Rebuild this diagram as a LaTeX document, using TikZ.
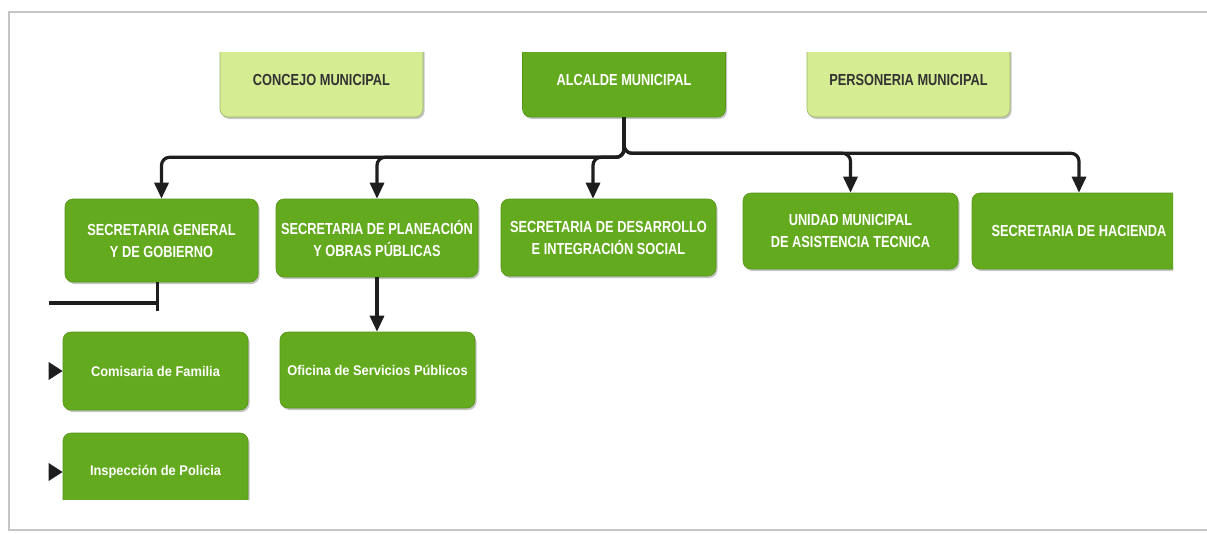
\documentclass[tikz,border=0pt]{standalone}
\usepackage{fontspec}
\newfontfamily\orgfont{Liberation Sans}[FakeStretch=0.8]
\newfontfamily\subfont{Liberation Sans}[FakeStretch=0.92]
\usetikzlibrary{arrows.meta,shadows}
\definecolor{leafgreen}{HTML}{64AA1E}
\definecolor{leafedge}{HTML}{569517}
\definecolor{palegreen}{HTML}{D5EC92}
\definecolor{paleedge}{HTML}{9DB566}
\definecolor{inkgray}{HTML}{333333}
\definecolor{linkgray}{HTML}{1E1E1E}

\begin{document}
\begin{tikzpicture}[x=1pt,y=-1pt,
  unit/.style={rounded corners=8pt,inner sep=0pt,align=center,
    drop shadow={shadow xshift=1.5pt,shadow yshift=-2pt,opacity=0.45}},
  darkbox/.style={unit,fill=leafgreen,draw=leafedge,line width=0.6pt,text=white,
    font=\orgfont\bfseries\fontsize{16}{22}\selectfont},
  lightbox/.style={unit,fill=palegreen,draw=paleedge,line width=0.6pt,text=inkgray,
    font=\orgfont\bfseries\fontsize{16}{22}\selectfont},
  subbox/.style={darkbox,font=\subfont\bfseries\fontsize{14}{17}\selectfont},
  link/.style={draw=linkgray,line width=3.2pt,rounded corners=8pt},
  arrowlink/.style={link,-{Triangle[length=16pt,width=14pt]}},
  sidelink/.style={link,-{Triangle[length=14pt,width=17pt]}}]
  \useasboundingbox (0,0) rectangle (1207,533);
  \fill[white] (0,0) rectangle (1207,533);
  % frame of the screenshot
  \draw[gray!45,line width=1.5pt] (1207,12) -- (9,12) -- (9,530) -- (1207,530);
  \begin{scope}
    \clip (0,52) rectangle (1173,499);
    % top row
    \node[lightbox,minimum width=203pt,minimum height=74pt] (con) at (321.5,80) {CONCEJO MUNICIPAL};
    \node[darkbox,minimum width=203pt,minimum height=74pt] (alc) at (624,80) {ALCALDE MUNICIPAL};
    \node[lightbox,minimum width=203pt,minimum height=74pt] (per) at (908.5,80) {PERSONERIA MUNICIPAL};
    % secretarias
    \node[darkbox,minimum width=193pt,minimum height=83pt] (b1) at (161.5,240.5) {SECRETARIA GENERAL\\Y DE GOBIERNO};
    \node[darkbox,minimum width=202pt,minimum height=78pt] (b2) at (377,238) {SECRETARIA DE PLANEACIÓN\\Y OBRAS PÚBLICAS};
    \node[darkbox,minimum width=215pt,minimum height=77pt] (b3) at (608.5,237.5) {SECRETARIA DE DESARROLLO\\E INTEGRACIÓN SOCIAL};
    \node[darkbox,minimum width=215pt,minimum height=76pt] (b4) at (850.5,231) {UNIDAD MUNICIPAL\\DE ASISTENCIA TECNICA};
    \node[darkbox,minimum width=214pt,minimum height=76pt] (b5) at (1079,231) {SECRETARIA DE HACIENDA};
    % dependencias
    \node[subbox,minimum width=185pt,minimum height=78pt] (com) at (155.5,371) {Comisaria de Familia};
    \node[subbox,minimum width=185pt,minimum height=78pt] (ins) at (155.5,472) {Inspección de Policia};
    \node[subbox,minimum width=195pt,minimum height=76pt] (ofi) at (377.5,370) {Oficina de Servicios Públicos};
  \end{scope}
  % connectors
  \foreach \b in {b1,b2}
    \draw[arrowlink] (alc.south) -- ++(0,40) -| (\b.north);
  \draw[arrowlink] (alc.south) -- ++(0,40) -| ([xshift=-15.5pt]b3.north);
  \foreach \b in {b4,b5}
    \draw[arrowlink] (alc.south) -- ++(0,36) -| (\b.north);
  \draw[arrowlink] (b2.south) -- (b2.south |- ofi.north);
  \coordinate (gobtop) at ([xshift=-4.5pt]b1.south);
  \coordinate (gobfoot) at ([xshift=-4.5pt,yshift=-29pt]b1.south);
  \coordinate (gobend) at (49,303);
  \draw[link,line width=3pt,rounded corners=0pt] (gobtop) -- (gobfoot);
  \draw[link,line width=3.6pt,rounded corners=0pt] (gobend) -- (gobend -| gobfoot);
  \coordinate (comin) at ([xshift=-14pt]com.west);
  \coordinate (insin) at ([xshift=-14pt]ins.west);
  \draw[sidelink] (comin) -- (com.west);
  \draw[sidelink] (insin) -- (ins.west);
\end{tikzpicture}
\end{document}
